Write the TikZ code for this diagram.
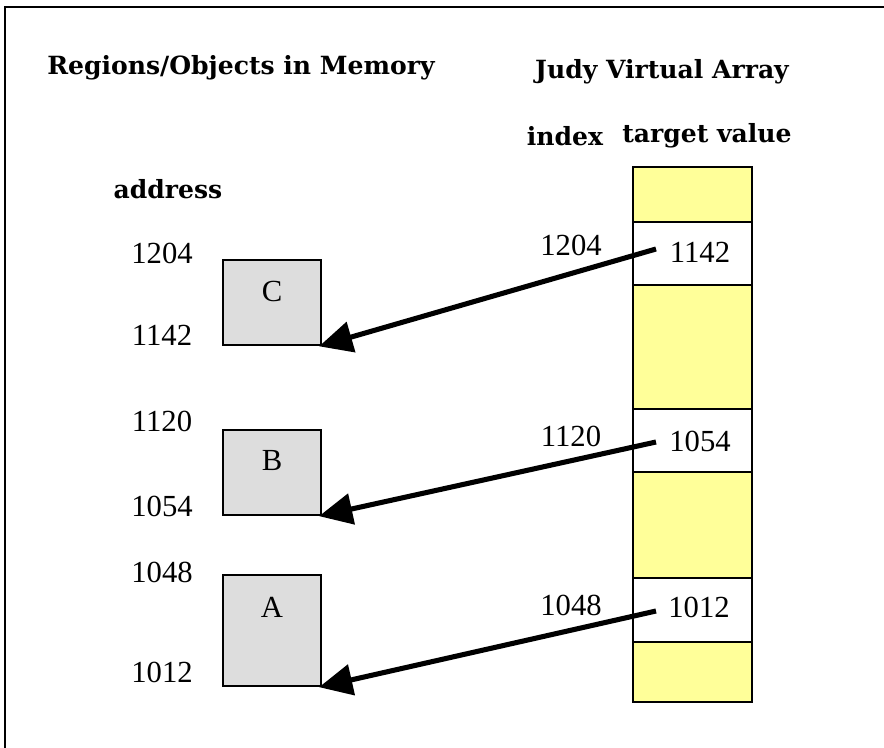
\documentclass[tikz,border=0pt]{standalone}
\usepackage{fontspec}
\setmainfont{Liberation Serif}
\newfontfamily\headfont{DejaVu Serif}
\usetikzlibrary{arrows.meta}
\definecolor{cellyellow}{HTML}{FFFF99}
\definecolor{boxgray}{HTML}{DDDDDD}
\tikzset{
  head/.style={font=\headfont\bfseries\fontsize{18.8}{22}\selectfont, inner sep=0pt},
  num/.style={font=\fontsize{23}{26}\selectfont, inner sep=0pt},
  ycell/.style={draw=black, line width=1.1pt, fill=cellyellow, minimum width=89.25pt, inner sep=0pt},
  wcell/.style={draw=black, line width=1.1pt, fill=white, minimum width=89.25pt, inner sep=0pt},
  objbox/.style={draw=black, line width=0.9pt, fill=boxgray, minimum width=73.5pt, inner sep=0pt},
  ptr/.style={line width=3.8pt, -{Triangle[length=25pt, width=23pt]}, shorten >=-2pt}
}
\begin{document}
\begin{tikzpicture}[x=0.75pt, y=-0.75pt]
\useasboundingbox (0,0) rectangle (884,748);
\fill[white] (0,0) rectangle (884,748);
% frame
\draw[line width=1.5pt] (5,748) -- (5,7) -- (884,7);

% headings
\node[head] (h1) at (241,68) {Regions/Objects in Memory};
\node[head] (h2) at (662,72) {Judy Virtual Array};
\node[head] (h3) at (565,136) {index};
\node[head] (h4) at (707,136) {target value};
\node[head] (h5) at (168,189) {address};

% array column
\node[ycell, minimum height=41.25pt] (y1) at (692.5,194.5) {};
\node[wcell, minimum height=47.25pt] (w1) at (692.5,253.5) {};
\node[ycell, minimum height=93pt] (y2) at (692.5,347) {};
\node[wcell, minimum height=47.25pt] (w2) at (692.5,440.5) {};
\node[ycell, minimum height=79.5pt] (y3) at (692.5,525) {};
\node[wcell, minimum height=48pt] (w3) at (692.5,610) {};
\node[ycell, minimum height=45pt] (y4) at (692.5,672) {};

\node[num] (v1) at (700,252) {1142};
\node[num] (v2) at (700,441) {1054};
\node[num] (v3) at (699,607) {1012};

\node[num] (i1) at (571,245) {1204};
\node[num] (i2) at (571,436) {1120};
\node[num] (i3) at (571,605) {1048};

% memory objects
\node[objbox, minimum height=63.75pt] (C) at (272,302.5) {};
\node[objbox, minimum height=63.75pt] (B) at (272,472.5) {};
\node[objbox, minimum height=83.25pt] (A) at (272,630.5) {};
\node[num] (lc) at (272,291) {C};
\node[num] (lb) at (272,461) {B};
\node[num] (la) at (272,607) {A};

\node[num] (a1) at (162,253) {1204};
\node[num] (a2) at (162,335) {1142};
\node[num] (a3) at (162,421) {1120};
\node[num] (a4) at (162,506) {1054};
\node[num] (a5) at (162,572) {1048};
\node[num] (a6) at (162,672) {1012};

% pointers
\coordinate (s1) at (656,249);
\coordinate (s2) at (656,442);
\coordinate (s3) at (656,611);
\draw[ptr] (s1) -- (C.south east);
\draw[ptr] (s2) -- (B.south east);
\draw[ptr] (s3) -- (A.south east);
\end{tikzpicture}
\end{document}
